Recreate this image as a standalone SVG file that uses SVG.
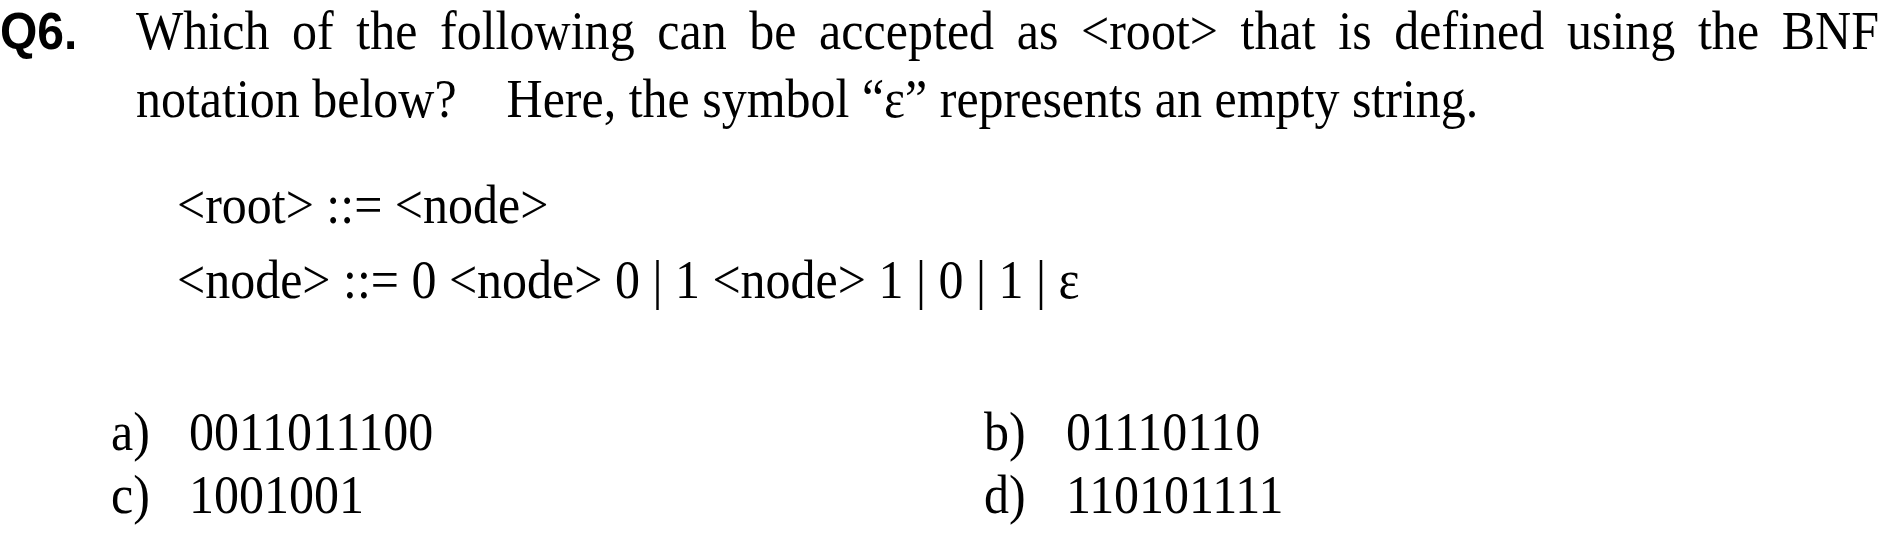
<svg xmlns="http://www.w3.org/2000/svg" width="1886" height="534" viewBox="0 0 1886 534">
<style>
.t{font-family:"Liberation Serif","Times New Roman",serif;font-size:50px;fill:#000}
.q{font-family:"Liberation Sans",Arial,sans-serif;font-size:48px;font-weight:bold;fill:#000}
</style>
<rect width="1886" height="534" fill="#fff"/>
<g id="question">
<text class="q" transform="translate(0,49) scale(1,1.08)" x="0" y="0">Q6.</text>
<text class="t" transform="translate(0,49) scale(1,1.08)" x="136" y="0" textLength="1743" lengthAdjust="spacing" word-spacing="10">Which of the following can be accepted as &lt;root&gt; that is defined using the BNF</text>
<text class="t" transform="translate(0,117) scale(1,1.08)" x="136" y="0" xml:space="preserve">notation below?    Here, the symbol “ε” represents an empty string.</text>
</g>
<g id="bnf">
<text class="t" transform="translate(0,223) scale(1,1.08)" x="177" y="0">&lt;root&gt; ::= &lt;node&gt;</text>
<text class="t" transform="translate(0,298) scale(1,1.08)" x="177" y="0">&lt;node&gt; ::= 0 &lt;node&gt; 0 | 1 &lt;node&gt; 1 | 0 | 1 | ε</text>
</g>
<g id="options">
<g transform="translate(0,450) scale(1,1.08)">
<text class="t" x="111" y="0">a)</text><text class="t" x="189" y="0">0011011100</text>
<text class="t" x="984" y="0">b)</text><text class="t" x="1066" y="0">01110110</text>
</g>
<g transform="translate(0,513) scale(1,1.08)">
<text class="t" x="111" y="0">c)</text><text class="t" x="189" y="0">1001001</text>
<text class="t" x="984" y="0">d)</text><text class="t" x="1066" y="0">110101111</text>
</g>
</g>
</svg>
